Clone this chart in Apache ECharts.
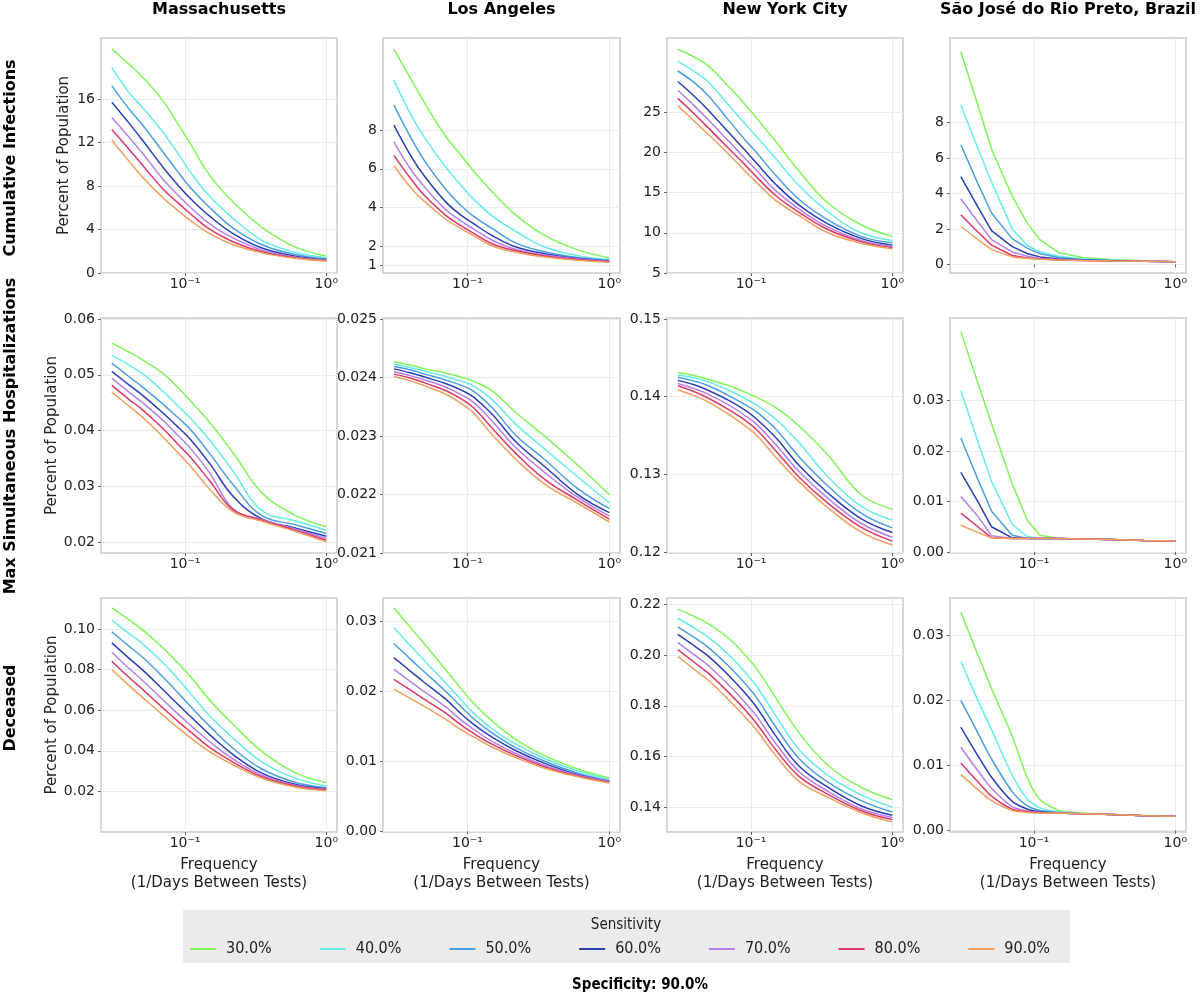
<!DOCTYPE html>
<html><head><meta charset="utf-8">
<script src="https://cdn.jsdelivr.net/npm/echarts@6/dist/echarts.min.js"></script>
<style>html,body{margin:0;padding:0;background:#fff}#c{width:1200px;height:998px}</style>
</head><body><div id="c"></div>
<script>
// ---------- data ----------
const frequency = [0.0303, 0.04, 0.05, 0.07, 0.09, 0.11, 0.15, 0.22, 0.35, 0.6, 1.0];
const sensitivities = ['30.0%','40.0%','50.0%','60.0%','70.0%','80.0%','90.0%'];
const regions = ['Massachusetts','Los Angeles','New York City','São José do Rio Preto, Brazil'];
const outcomes = ['Cumulative Infections','Max Simultaneous Hospitalizations','Deceased'];
const xTicks = [0.1, 1];

// Cumulative infections (% of population), rows = sensitivity 30%..90%
const infMA = [
 [20.6, 19.2, 18.0, 15.8, 13.6, 11.8, 8.95, 6.5, 4.2, 2.4, 1.55],
 [18.9, 16.6, 15.2, 12.9, 10.9, 9.2, 7.0, 5.0, 3.0, 1.9, 1.4],
 [17.2, 15.1, 13.6, 11.1, 9.2, 7.8, 6.0, 4.1, 2.6, 1.7, 1.3],
 [15.7, 13.8, 12.2, 9.7, 8.0, 6.8, 5.2, 3.6, 2.3, 1.55, 1.2],
 [14.3, 12.5, 11.0, 8.6, 7.1, 6.0, 4.5, 3.2, 2.1, 1.45, 1.15],
 [13.2, 11.4, 9.9, 7.7, 6.4, 5.4, 4.0, 2.85, 1.95, 1.4, 1.12],
 [12.2, 10.3, 8.8, 6.9, 5.7, 4.8, 3.6, 2.6, 1.85, 1.35, 1.1]];
const infLA = [
 [12.2, 10.65, 9.4, 7.7, 6.7, 5.9, 4.8, 3.6, 2.55, 1.8, 1.39],
 [10.6, 8.8, 7.6, 6.1, 5.15, 4.45, 3.55, 2.75, 1.95, 1.5, 1.3],
 [9.3, 7.6, 6.4, 4.95, 4.1, 3.55, 2.9, 2.15, 1.7, 1.4, 1.25],
 [8.26, 6.66, 5.6, 4.3, 3.6, 3.17, 2.53, 1.95, 1.6, 1.35, 1.22],
 [7.4, 5.95, 5.05, 3.9, 3.3, 2.89, 2.3, 1.82, 1.53, 1.32, 1.2],
 [6.7, 5.47, 4.6, 3.6, 3.05, 2.67, 2.1, 1.75, 1.48, 1.3, 1.18],
 [6.17, 5.0, 4.3, 3.4, 2.9, 2.55, 2.0, 1.68, 1.43, 1.26, 1.16]];
const infNYC = [
 [32.8, 31.8, 30.7, 28.1, 26.0, 24.2, 21.3, 17.6, 13.7, 11.0, 9.55],
 [31.3, 30.0, 28.7, 25.8, 23.6, 21.9, 19.2, 15.8, 12.6, 10.0, 9.05],
 [30.1, 28.6, 27.0, 23.9, 21.6, 19.9, 17.1, 14.1, 11.6, 9.55, 8.75],
 [28.8, 26.9, 25.2, 22.4, 20.3, 18.6, 16.0, 13.4, 11.1, 9.3, 8.45],
 [27.7, 25.7, 24.0, 21.3, 19.3, 17.7, 15.2, 12.9, 10.7, 9.05, 8.3],
 [26.7, 24.7, 23.0, 20.4, 18.5, 16.9, 14.6, 12.5, 10.4, 8.9, 8.15],
 [25.8, 23.8, 22.2, 19.7, 17.7, 16.2, 14.0, 12.1, 10.0, 8.7, 8.0]];
const infSJ = [
 [12.0, 9.0, 6.5, 3.85, 2.3, 1.4, 0.65, 0.38, 0.27, 0.2, 0.15],
 [9.0, 6.55, 4.65, 2.0, 1.05, 0.7, 0.45, 0.3, 0.24, 0.19, 0.15],
 [6.75, 4.56, 2.9, 1.45, 0.9, 0.6, 0.38, 0.27, 0.22, 0.18, 0.15],
 [4.95, 3.25, 1.9, 1.0, 0.6, 0.42, 0.3, 0.24, 0.2, 0.17, 0.15],
 [3.7, 2.4, 1.4, 0.7, 0.45, 0.33, 0.26, 0.22, 0.19, 0.17, 0.15],
 [2.8, 1.83, 1.08, 0.5, 0.36, 0.3, 0.25, 0.21, 0.19, 0.17, 0.15],
 [2.15, 1.4, 0.83, 0.42, 0.33, 0.28, 0.24, 0.21, 0.19, 0.17, 0.15]];

// Max simultaneous hospitalizations (% of population)
const hospMA = [
 [0.0557, 0.0541, 0.0527, 0.0502, 0.0476, 0.0452, 0.0414, 0.0359, 0.0288, 0.0248, 0.0227],
 [0.0535, 0.0518, 0.0502, 0.0470, 0.0443, 0.0421, 0.0382, 0.0326, 0.0256, 0.0238, 0.0221],
 [0.0521, 0.0497, 0.0478, 0.0447, 0.0422, 0.0401, 0.0358, 0.0302, 0.0247, 0.0231, 0.0215],
 [0.0506, 0.0482, 0.0463, 0.0431, 0.0405, 0.0383, 0.0340, 0.0281, 0.0241, 0.0225, 0.0210],
 [0.0494, 0.0469, 0.0450, 0.0418, 0.0390, 0.0367, 0.0323, 0.0259, 0.0240, 0.0223, 0.0206],
 [0.0481, 0.0456, 0.0437, 0.0403, 0.0374, 0.0351, 0.0309, 0.0257, 0.0239, 0.0221, 0.0203],
 [0.0469, 0.0444, 0.0424, 0.0388, 0.0359, 0.0335, 0.0294, 0.0254, 0.0237, 0.0219, 0.0200]];
const hospLA = [
 [0.02427, 0.02421, 0.02415, 0.02408, 0.02401, 0.02394, 0.02377, 0.0234, 0.0230, 0.0225, 0.0220],
 [0.02423, 0.02417, 0.02411, 0.02402, 0.02394, 0.02386, 0.02362, 0.0232, 0.02278, 0.0223, 0.02186],
 [0.02419, 0.02413, 0.02406, 0.02396, 0.02387, 0.02377, 0.02348, 0.02301, 0.0226, 0.0221, 0.02176],
 [0.02415, 0.02408, 0.02401, 0.02390, 0.02379, 0.02367, 0.02337, 0.0229, 0.02248, 0.0220, 0.02169],
 [0.0241, 0.02403, 0.02396, 0.02384, 0.02371, 0.02358, 0.02325, 0.0228, 0.02238, 0.02195, 0.02163],
 [0.02406, 0.02399, 0.02391, 0.02378, 0.02364, 0.02349, 0.02313, 0.0227, 0.02226, 0.0219, 0.02158],
 [0.02402, 0.02394, 0.02386, 0.02372, 0.02356, 0.02340, 0.02302, 0.0226, 0.02218, 0.02185, 0.02153]];
const hospNYC = [
 [0.1431, 0.1427, 0.1422, 0.1414, 0.1406, 0.1399, 0.1386, 0.1362, 0.1325, 0.1274, 0.1255],
 [0.1428, 0.1424, 0.1419, 0.1408, 0.1398, 0.1389, 0.1371, 0.1340, 0.1297, 0.1259, 0.1241],
 [0.1425, 0.1420, 0.1414, 0.1401, 0.1390, 0.1380, 0.1358, 0.1322, 0.1285, 0.1250, 0.1231],
 [0.1421, 0.1415, 0.1408, 0.1395, 0.1383, 0.1371, 0.1347, 0.1311, 0.1276, 0.1243, 0.1225],
 [0.1417, 0.1410, 0.1403, 0.1389, 0.1376, 0.1364, 0.1338, 0.1303, 0.1269, 0.1237, 0.1219],
 [0.1414, 0.1406, 0.1398, 0.1383, 0.1370, 0.1357, 0.1330, 0.1296, 0.1263, 0.1232, 0.1214],
 [0.1409, 0.1401, 0.1393, 0.1377, 0.1363, 0.1350, 0.1322, 0.1290, 0.1257, 0.1226, 0.1209]];
const hospSJ = [
 [0.0437, 0.0335, 0.0255, 0.0135, 0.0062, 0.0033, 0.0027, 0.0026, 0.0025, 0.0023, 0.0022],
 [0.0320, 0.0219, 0.0140, 0.0055, 0.0030, 0.0027, 0.0027, 0.0026, 0.0025, 0.0023, 0.0022],
 [0.0226, 0.0144, 0.0081, 0.0033, 0.0027, 0.0027, 0.0027, 0.0026, 0.0025, 0.0023, 0.0022],
 [0.0158, 0.0100, 0.0050, 0.0028, 0.0027, 0.0027, 0.0027, 0.0026, 0.0025, 0.0023, 0.0022],
 [0.0110, 0.0071, 0.0032, 0.0027, 0.0027, 0.0027, 0.0027, 0.0026, 0.0025, 0.0023, 0.0022],
 [0.0077, 0.0050, 0.0028, 0.0027, 0.0027, 0.0027, 0.0027, 0.0026, 0.0025, 0.0023, 0.0022],
 [0.0053, 0.0039, 0.0028, 0.0027, 0.0027, 0.0027, 0.0027, 0.0026, 0.0025, 0.0023, 0.0022]];

// Deceased (% of population)
const deathMA = [
 [0.1103, 0.1045, 0.0995, 0.0905, 0.0828, 0.0762, 0.0648, 0.0528, 0.0397, 0.0292, 0.0243],
 [0.1043, 0.0978, 0.0926, 0.0833, 0.0750, 0.0680, 0.0570, 0.0461, 0.0345, 0.0265, 0.0226],
 [0.0985, 0.0915, 0.0860, 0.0762, 0.0682, 0.0617, 0.0520, 0.0410, 0.0310, 0.0245, 0.0218],
 [0.0931, 0.0856, 0.0798, 0.0700, 0.0625, 0.0567, 0.0478, 0.0380, 0.0290, 0.0235, 0.0213],
 [0.0885, 0.0806, 0.0746, 0.0650, 0.0578, 0.0524, 0.0443, 0.0358, 0.0280, 0.0230, 0.0210],
 [0.0841, 0.0762, 0.0702, 0.0610, 0.0542, 0.0492, 0.0415, 0.0343, 0.0272, 0.0226, 0.0207],
 [0.0800, 0.0722, 0.0663, 0.0574, 0.0510, 0.0462, 0.0394, 0.0330, 0.0265, 0.0222, 0.0203]];
const deathLA = [
 [0.0319, 0.0290, 0.0267, 0.0231, 0.0204, 0.0183, 0.0157, 0.0131, 0.0108, 0.0089, 0.0076],
 [0.0291, 0.0264, 0.0243, 0.0212, 0.0188, 0.0169, 0.0146, 0.0124, 0.0104, 0.0086, 0.0074],
 [0.0268, 0.0245, 0.0227, 0.0200, 0.0178, 0.0161, 0.0140, 0.0119, 0.0100, 0.0083, 0.0072],
 [0.0248, 0.0228, 0.0212, 0.0189, 0.0168, 0.0153, 0.0134, 0.0115, 0.0097, 0.0081, 0.0071],
 [0.0231, 0.0213, 0.0199, 0.0178, 0.0159, 0.0146, 0.0128, 0.0111, 0.0094, 0.0080, 0.0071],
 [0.0217, 0.0201, 0.0188, 0.0169, 0.0152, 0.0140, 0.0124, 0.0108, 0.0092, 0.0079, 0.0070],
 [0.0203, 0.0189, 0.0178, 0.0160, 0.0145, 0.0135, 0.0120, 0.0105, 0.0090, 0.0078, 0.0069]];
const deathNYC = [
 [0.2182, 0.2152, 0.2124, 0.2065, 0.2003, 0.1945, 0.1830, 0.1691, 0.1565, 0.1478, 0.1429],
 [0.2146, 0.2106, 0.2070, 0.2000, 0.1935, 0.1875, 0.1760, 0.1625, 0.1525, 0.1448, 0.1400],
 [0.2112, 0.2068, 0.2030, 0.1955, 0.1890, 0.1830, 0.1715, 0.1590, 0.1498, 0.1425, 0.1380],
 [0.2082, 0.2035, 0.1995, 0.1918, 0.1852, 0.1792, 0.1680, 0.1560, 0.1478, 0.1405, 0.1367],
 [0.2050, 0.2000, 0.1958, 0.1880, 0.1815, 0.1757, 0.1650, 0.1538, 0.1462, 0.1393, 0.1358],
 [0.2022, 0.1970, 0.1928, 0.1850, 0.1786, 0.1728, 0.1625, 0.1520, 0.1450, 0.1385, 0.1350],
 [0.1995, 0.1942, 0.1900, 0.1822, 0.1758, 0.1702, 0.1602, 0.1500, 0.1438, 0.1378, 0.1340]];
const deathSJ = [
 [0.0335, 0.0270, 0.0218, 0.0145, 0.0080, 0.0048, 0.0031, 0.0027, 0.0025, 0.0023, 0.0022],
 [0.0260, 0.0200, 0.0155, 0.0085, 0.0048, 0.0035, 0.0029, 0.0026, 0.0025, 0.0023, 0.0022],
 [0.0200, 0.0150, 0.0110, 0.0060, 0.0038, 0.0031, 0.0028, 0.0026, 0.0025, 0.0023, 0.0022],
 [0.0159, 0.0115, 0.0082, 0.0045, 0.0033, 0.0029, 0.0027, 0.0026, 0.0025, 0.0023, 0.0022],
 [0.0128, 0.0092, 0.0065, 0.0037, 0.0030, 0.0028, 0.0027, 0.0026, 0.0025, 0.0023, 0.0022],
 [0.0104, 0.0075, 0.0053, 0.0033, 0.0029, 0.0028, 0.0027, 0.0026, 0.0025, 0.0023, 0.0022],
 [0.0086, 0.0063, 0.0046, 0.0031, 0.0028, 0.0027, 0.0027, 0.0026, 0.0025, 0.0023, 0.0022]];

// y tick labels per panel
const ticksInfMA = [0, 4, 8, 12, 16];
const ticksInfLA = [1, 2, 4, 6, 8];
const ticksInfNYC = [5, 10, 15, 20, 25];
const ticksInfSJ = [0, 2, 4, 6, 8];
const ticksHospMA = [0.02, 0.03, 0.04, 0.05, 0.06];
const ticksHospLA = [0.021, 0.022, 0.023, 0.024, 0.025];
const ticksHospNYC = [0.12, 0.13, 0.14, 0.15];
const ticksHospSJ = [0.00, 0.01, 0.02, 0.03];
const ticksDeathMA = [0.02, 0.04, 0.06, 0.08, 0.10];
const ticksDeathLA = [0.00, 0.01, 0.02, 0.03];
const ticksDeathNYC = [0.14, 0.16, 0.18, 0.20, 0.22];
const ticksDeathSJ = [0.00, 0.01, 0.02, 0.03];

// ---------- styling / layout ----------
const colors = ['#80f55a', '#66ece2', '#4b9fe1', '#2b3fb4', '#b480e8', '#dc3768', '#f0a05c'];
const FONT = '"DejaVu Sans", sans-serif';
const COND = '"DejaVu Sans Condensed", "Liberation Sans Narrow", "DejaVu Sans", sans-serif';
const colLeft = [101, 383, 667, 950];
const colWidth = [236, 237, 236, 236];
const rowTop = [38, 318, 598];
const rowHeight = [235, 235, 234];

const panels = [
 {r:0,c:0,data:infMA,ticks:ticksInfMA,min:0,max:21.6,dec:0},
 {r:0,c:1,data:infLA,ticks:ticksInfLA,min:0.6,max:12.78,dec:0},
 {r:0,c:2,data:infNYC,ticks:ticksInfNYC,min:5,max:34.2,dec:0},
 {r:0,c:3,data:infSJ,ticks:ticksInfSJ,min:-0.49,max:12.78,dec:0},
 {r:1,c:0,data:hospMA,ticks:ticksHospMA,min:0.0180,max:0.0602,dec:2},
 {r:1,c:1,data:hospLA,ticks:ticksHospLA,min:0.021,max:0.02502,dec:3},
 {r:1,c:2,data:hospNYC,ticks:ticksHospNYC,min:0.11987,max:0.15013,dec:2},
 {r:1,c:3,data:hospSJ,ticks:ticksHospSJ,min:-0.0002,max:0.0464,dec:2},
 {r:2,c:0,data:deathMA,ticks:ticksDeathMA,min:0,max:0.1152,dec:2},
 {r:2,c:1,data:deathLA,ticks:ticksDeathLA,min:-0.0001,max:0.0333,dec:2},
 {r:2,c:2,data:deathNYC,ticks:ticksDeathNYC,min:0.1301,max:0.2226,dec:2},
 {r:2,c:3,data:deathSJ,ticks:ticksDeathSJ,min:-0.0002,max:0.0357,dec:2}
];

function powLabel(v){
  const e = Math.round(Math.log10(v));
  const sup = {'-1':'⁻¹','0':'⁰','1':'¹'};
  return '10' + (sup[String(e)] || e);
}

const grids=[], xAxes=[], yAxes=[], series=[];
panels.forEach((p,i)=>{
  grids.push({left:colLeft[p.c], top:rowTop[p.r], width:colWidth[p.c], height:rowHeight[p.r],
    show:true, borderColor:'#cccccc', borderWidth:1.5, backgroundColor:'rgba(0,0,0,0)', containLabel:false});
  xAxes.push({type:'log', gridIndex:i, min:0.0254, max:1.19,
    axisLine:{show:false},
    axisTick:{show:true, length:3, inside:false, lineStyle:{color:'#666'}, customValues:xTicks},
    axisLabel:{customValues:xTicks, formatter:powLabel, fontSize:14, color:'#222', margin:4, fontFamily:FONT},
    splitLine:{show:true, lineStyle:{color:'#ebebeb', width:1}},
    minorTick:{show:false}, minorSplitLine:{show:false},
    name: p.r===2 ? 'Frequency\n(1/Days Between Tests)' : '',
    nameLocation:'middle', nameGap:24,
    nameTextStyle:{fontSize:15, color:'#222', lineHeight:18, fontFamily:FONT, verticalAlign:'top'}
  });
  yAxes.push({type:'value', gridIndex:i, min:p.min, max:p.max,
    axisLine:{show:false},
    axisTick:{show:true, length:3, lineStyle:{color:'#666'}, customValues:p.ticks},
    axisLabel:{customValues:p.ticks, formatter:v=>Number(v).toFixed(p.dec), fontSize:14, color:'#222', margin:6, fontFamily:FONT},
    splitLine:{show:true, lineStyle:{color:'#ebebeb', width:1}},
    name: p.c===0 ? 'Percent of Population' : '',
    nameLocation:'middle', nameGap: p.r===0 ? 29 : 40,
    nameTextStyle:{fontSize:15, color:'#222', fontFamily:FONT}
  });
  p.data.forEach((vals,k)=>{
    series.push({type:'line', name:sensitivities[k], xAxisIndex:i, yAxisIndex:i,
      data: frequency.map((x,j)=>[x, vals[j]]),
      showSymbol:false, symbol:'none',
      smooth: p.c===3 ? (p.r===2 ? 0.25 : false) : 0.4,
      lineStyle:{width:1.5, color:colors[k]}, itemStyle:{color:colors[k]},
      silent:true, animation:false, z:2+k});
  });
});

const graphics = [];
regions.forEach((t,c)=>{
  graphics.push({type:'text', x: colLeft[c] + colWidth[c]/2, y: 10,
    style:{text:t, font:'bold 16px ' + FONT, fill:'#000', align:'center', verticalAlign:'middle'}});
});
const rowCenters = [158, 436, 708];
outcomes.forEach((t,r)=>{
  graphics.push({type:'text', x: 11, y: rowCenters[r], rotation: Math.PI/2,
    style:{text:t, font:'bold 16px ' + FONT, fill:'#000', align:'center', verticalAlign:'middle'}});
});
graphics.push({type:'rect', z:-10, shape:{x:183, y:910, width:887, height:53}, style:{fill:'#ebebeb'}});
graphics.push({type:'text', x: 626, y: 925,
  style:{text:'Sensitivity', font:'15px ' + COND, fill:'#222', align:'center', verticalAlign:'middle'}});
graphics.push({type:'text', x: 640, y: 985,
  style:{text:'Specificity: 90.0%', font:'bold 15px ' + COND, fill:'#000', align:'center', verticalAlign:'middle'}});

const chart = echarts.init(document.getElementById('c'), null, {renderer:'canvas', width:1200, height:998});
chart.setOption({
  animation:false,
  backgroundColor:'#ffffff',
  grid: grids, xAxis: xAxes, yAxis: yAxes, series: series,
  graphic: graphics,
  legend: {data: sensitivities, left: 190, top: 941, orient:'horizontal', padding:0,
    icon:'rect', itemWidth:26, itemHeight:2, itemGap:48,
    textStyle:{fontSize:16, color:'#222', fontFamily:COND, padding:[0,0,0,5]},
    selectedMode:false}
});
</script></body></html>
